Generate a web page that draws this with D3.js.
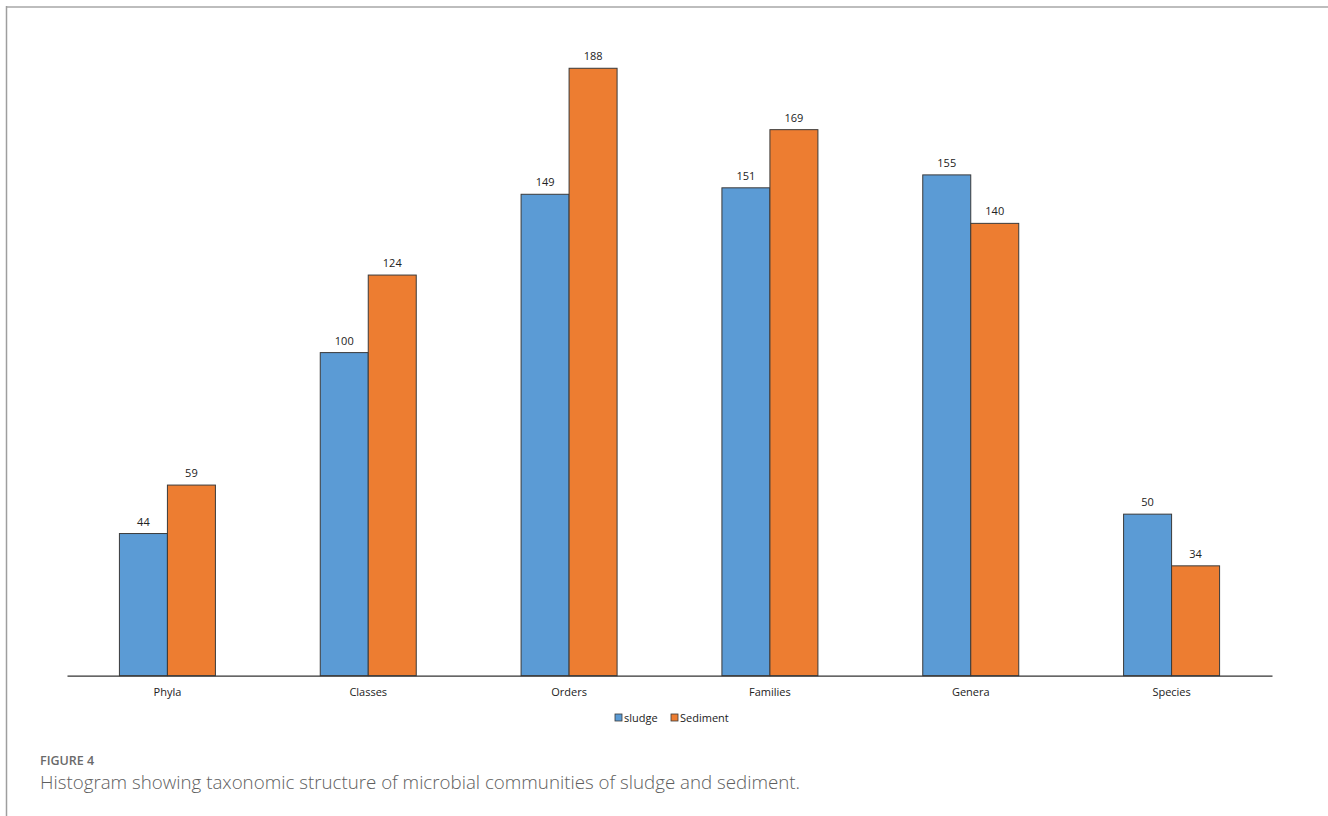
<!DOCTYPE html>
<html><head><meta charset="utf-8">
<script src="https://cdn.jsdelivr.net/npm/d3@7"></script>
<style>body{margin:0;background:#fff;}svg{display:block;}</style>
</head><body>
<svg id="c" width="1328" height="816"></svg>
<script>
const categories = ["Phyla","Classes","Orders","Families","Genera","Species"];
const seriesNames = ["sludge","Sediment"];
const sludge = [44,100,149,151,155,50];
const sediment = [59,124,188,169,140,34];
const colors = ["#5B9BD5","#ED7D31"];

const svg = d3.select("#c");
// frame
svg.append("line").attr("x1",6).attr("x2",1328).attr("y1",7).attr("y2",7).attr("stroke","#bdbdbd").attr("stroke-width",2);
svg.append("line").attr("x1",6.5).attr("x2",6.5).attr("y1",6).attr("y2",816).attr("stroke","#9e9e9e").attr("stroke-width",1.5);

const x0 = d3.scaleBand().domain(categories).range([67,1272]).paddingInner(0.522).paddingOuter(0.261);
const x1 = d3.scaleBand().domain(seriesNames).range([0,x0.bandwidth()]);
const y = d3.scaleLinear().domain([0,200]).range([675.7,29.5]);

const data = categories.map((c,i)=>({cat:c, vals:[sludge[i],sediment[i]]}));
const g = svg.append("g");
const grp = g.selectAll("g.cat").data(data).join("g").attr("transform",d=>`translate(${x0(d.cat)},0)`);
grp.selectAll("rect").data(d=>d.vals.map((v,j)=>({v,s:seriesNames[j],j}))).join("rect")
  .attr("x",d=>x1(d.s)).attr("width",x1.bandwidth())
  .attr("y",d=>y(d.v)).attr("height",d=>y(0)-y(d.v))
  .attr("fill",d=>colors[d.j]).attr("stroke","#3a3a3a").attr("stroke-width",1);
grp.selectAll("text").data(d=>d.vals.map((v,j)=>({v,s:seriesNames[j],j}))).join("text")
  .attr("x",d=>x1(d.s)+x1.bandwidth()/2).attr("y",d=>y(d.v)-8)
  .attr("text-anchor","middle").attr("font-family","'Open Sans', sans-serif").attr("font-size",11)
  .attr("fill","#222").text(d=>d.v);

// x axis
const ax = svg.append("g").attr("transform",`translate(0,${y(0)})`)
  .call(d3.axisBottom(x0.copy().paddingInner(0).paddingOuter(0)).tickSize(0).tickPadding(12.5));
ax.select(".domain").attr("stroke","#333").attr("stroke-width",1.3);
ax.selectAll("text").attr("font-family","'Open Sans', sans-serif").attr("font-size",11).attr("fill","#222");

// legend
const leg = svg.append("g").attr("transform","translate(615,718)");
const items = [{n:"sludge",x:0},{n:"Sediment",x:56}];
items.forEach((it,i)=>{
  leg.append("rect").attr("x",it.x).attr("y",-4).attr("width",7).attr("height",7).attr("fill",colors[i]).attr("stroke","#3a3a3a").attr("stroke-width",0.8);
  leg.append("text").attr("x",it.x+9).attr("y",3.5).attr("font-family","'Open Sans', sans-serif").attr("font-size",11).attr("fill","#222").text(it.n);
});

// caption
svg.append("text").attr("x",40).attr("y",765).attr("font-family","'Open Sans', sans-serif").attr("font-size",12.5).attr("font-weight",600).attr("fill","#6a6a6a").text("FIGURE 4");
svg.append("text").attr("x",40).attr("y",789).attr("font-family","'Open Sans', sans-serif").attr("font-size",17.5).attr("font-weight",300).attr("fill","#5e5e5e")
  .attr("textLength",760).attr("lengthAdjust","spacingAndGlyphs")
  .text("Histogram showing taxonomic structure of microbial communities of sludge and sediment.");
</script>
</body></html>
